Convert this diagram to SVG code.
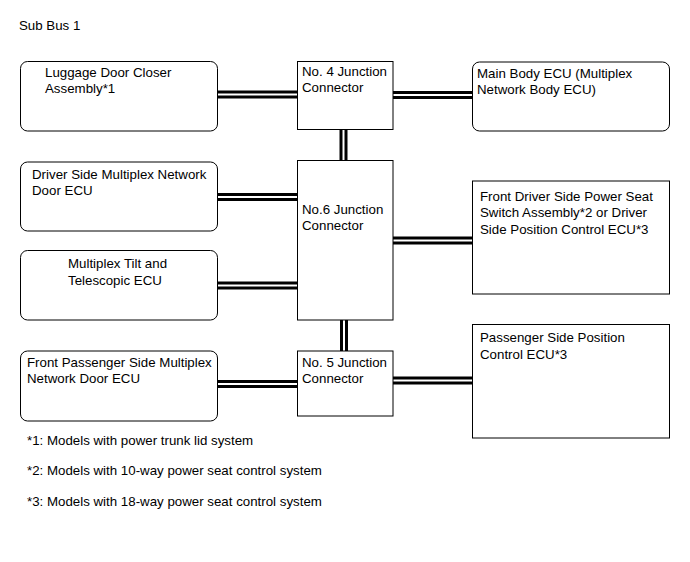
<svg xmlns="http://www.w3.org/2000/svg" width="690" height="562" viewBox="0 0 690 562">
<style>
text { font-family: "Liberation Sans", Arial, sans-serif; font-size: 13.3px; fill: #000; }
.box { fill: #fff; stroke: #000; stroke-width: 1; }
.outer { fill: none; stroke: #000; stroke-width: 8; }
.inner { fill: none; stroke: #fff; stroke-width: 2; }
</style>
<rect width="690" height="562" fill="#fff"/>
<text x="19" y="30">Sub Bus 1</text>
<g id="connectors">
  <g class="outer-lines">
    <path class="outer" d="M218,94.5 H297.5"/>
    <path class="outer" d="M393,95 H472.5"/>
    <path class="outer" d="M343.5,129.5 V160.5"/>
    <path class="outer" d="M218,197 H297.5"/>
    <path class="outer" d="M218,285.5 H297.5"/>
    <path class="outer" d="M393,240.5 H472.5"/>
    <path class="outer" d="M344,320 V351"/>
    <path class="outer" d="M218,384 H297.5"/>
    <path class="outer" d="M393,380.5 H472.5"/>
  </g>
  <g class="inner-lines">
    <path class="inner" d="M218,94.5 H297.5"/>
    <path class="inner" d="M393,95 H472.5"/>
    <path class="inner" d="M343.5,129.5 V160.5"/>
    <path class="inner" d="M218,197 H297.5"/>
    <path class="inner" d="M218,285.5 H297.5"/>
    <path class="inner" d="M393,240.5 H472.5"/>
    <path class="inner" d="M344,320 V351"/>
    <path class="inner" d="M218,384 H297.5"/>
    <path class="inner" d="M393,380.5 H472.5"/>
  </g>
</g>
<g id="luggage">
  <rect class="box" x="20.5" y="61.5" width="197" height="69.5" rx="7"/>
  <text x="45" y="77">Luggage Door Closer</text>
  <text x="45" y="93">Assembly*1</text>
</g>
<g id="jc4">
  <rect class="box" x="297.5" y="61.5" width="95.5" height="68"/>
  <text x="302" y="76">No. 4 Junction</text>
  <text x="302" y="92">Connector</text>
</g>
<g id="main-body">
  <rect class="box" x="472.5" y="62" width="197" height="69" rx="7"/>
  <text x="477" y="78">Main Body ECU (Multiplex</text>
  <text x="477" y="94">Network Body ECU)</text>
</g>
<g id="driver-door">
  <rect class="box" x="20.5" y="162" width="197" height="69" rx="7"/>
  <text x="32" y="179">Driver Side Multiplex Network</text>
  <text x="32" y="195">Door ECU</text>
</g>
<g id="jc6">
  <rect class="box" x="297.5" y="160.5" width="95.5" height="159.5"/>
  <text x="302" y="214">No.6 Junction</text>
  <text x="302" y="230">Connector</text>
</g>
<g id="tilt">
  <rect class="box" x="20.5" y="250.5" width="197" height="69.5" rx="7"/>
  <text x="68" y="268">Multiplex Tilt and</text>
  <text x="68" y="284.5">Telescopic ECU</text>
</g>
<g id="driver-seat">
  <rect class="box" x="472.5" y="181" width="197" height="113"/>
  <text x="480" y="200.5">Front Driver Side Power Seat</text>
  <text x="480" y="217">Switch Assembly*2 or Driver</text>
  <text x="480" y="233.5">Side Position Control ECU*3</text>
</g>
<g id="passenger-door">
  <rect class="box" x="20.5" y="351" width="197" height="70" rx="7"/>
  <text x="27" y="366.5">Front Passenger Side Multiplex</text>
  <text x="27" y="383">Network Door ECU</text>
</g>
<g id="jc5">
  <rect class="box" x="297.5" y="351" width="95.5" height="65"/>
  <text x="302" y="366.5">No. 5 Junction</text>
  <text x="302" y="383">Connector</text>
</g>
<g id="passenger-seat">
  <rect class="box" x="472.5" y="324.5" width="197" height="113.5"/>
  <text x="480" y="342">Passenger Side Position</text>
  <text x="480" y="359">Control ECU*3</text>
</g>
<text x="27" y="445">*1: Models with power trunk lid system</text>
<text x="27" y="475">*2: Models with 10-way power seat control system</text>
<text x="27" y="506">*3: Models with 18-way power seat control system</text>
</svg>
